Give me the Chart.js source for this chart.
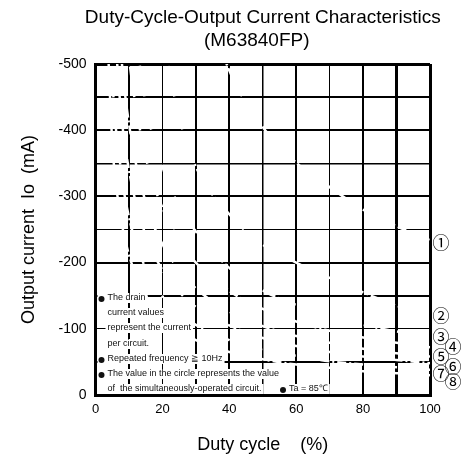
<!DOCTYPE html>
<html>
<head>
<meta charset="utf-8">
<script src="https://cdn.jsdelivr.net/npm/chart.js@4"></script>
<style>
  html, body { margin: 0; padding: 0; background: #fff; }
</style>
</head>
<body>
<canvas id="chart" width="467" height="466"></canvas>
<script>
// ── Data ────────────────────────────────────────────────
// duty cycle (%) sample points shared by every curve
const dutyPct = [2.5, 5, 7.5, 10, 15, 20, 25, 30, 40, 50, 60, 70, 80, 90, 100];

// output current (mA) for 1..8 simultaneously-operated circuits (null = off the chart)
const circuits1 = [null, null, null, null, null, null, null, -640, -490, -405, -351, -314, -280, -255, -235];
const circuits2 = [null, null, null, null, null, -540, -420, -345, -273, -227, -200, -177, -155, -135, -118];
const circuits3 = [null, null, null, -625, -440, -345, -285, -247, -192, -158, -136, -119, -106, -96, -88];
const circuits4 = [null, null, -650, -510, -360, -283, -234, -200, -157, -130, -111, -97, -87, -79, -72];
const circuits5 = [null, -740, -525, -410, -291, -228, -189, -161, -126, -104, -89, -79, -70, -63, -58];
const circuits6 = [null, -612, -434, -340, -241, -189, -156, -133, -105, -86, -74, -65, -58, -53, -48];
const circuits7 = [-874, -485, -344, -269, -191, -149, -124, -106, -83, -68, -59, -51, -46, -42, -38];
const circuits8 = [-690, -383, -271, -212, -151, -118, -98, -83, -65, -54, -46, -41, -36, -33, -30];

const curves = [circuits1, circuits2, circuits3, circuits4, circuits5, circuits6, circuits7, circuits8];
const curveLabels = ['①', '②', '③', '④', '⑤', '⑥', '⑦', '⑧'];
// current (mA) where each circled number sits beside the right edge
const labelCurrent = [-230, -120, -89, -73, -58, -43, -33, -20];

const xTickLabels = [0, 20, 40, 60, 80, 100];
const yTickLabels = [-500, -400, -300, -200, -100, 0];

// ── Grid weights (the sheet uses heavy and light rules) ──
const xRule = { 0: 3, 10: 2, 20: 1, 30: 2, 40: 2, 50: 1.5, 60: 2, 70: 1, 80: 2, 90: 3, 100: 3 };
const yRule = { 0: 3, '-50': 2, '-100': 1, '-150': 2, '-200': 2, '-250': 1, '-300': 2, '-350': 1.5, '-400': 2, '-450': 2, '-500': 3 };

const SANS = '"Liberation Sans", Arial, sans-serif';

// notes printed in the lower-left corner of the grid
const notes = [
  { dot: true, text: 'The drain', y: 298 },
  { dot: false, text: 'current values', y: 313 },
  { dot: false, text: 'represent the current', y: 328 },
  { dot: false, text: 'per circuit.', y: 344 },
  { dot: true, text: 'Repeated frequency \u2267 10Hz', y: 359 },
  { dot: true, text: 'The value in the circle represents the value', y: 374 },
  { dot: false, text: 'of  the simultaneously-operated circuit.', y: 389 }
];

const sheetText = {
  id: 'sheetText',
  afterDraw(chart) {
    const { ctx, chartArea, scales } = chart;
    const cx = (chartArea.left + chartArea.right) / 2;
    ctx.save();
    ctx.fillStyle = '#000';
    ctx.textBaseline = 'middle';

    // title
    ctx.font = '19px ' + SANS;
    ctx.textAlign = 'center';
    ctx.fillText('Duty-Cycle-Output Current Characteristics', cx, 18);
    ctx.fillText('(M63840FP)', cx - 6, 41);

    // notes, each line on its own white strip
    ctx.font = '9px ' + SANS;
    ctx.textAlign = 'left';
    const tx = chartArea.left + 12;
    const drawLine = (text, x, y, dot) => {
      const w = ctx.measureText(text).width;
      ctx.fillStyle = '#fff';
      ctx.fillRect(dot ? x - 10 : x - 2, y - 5, w + (dot ? 12 : 4), 10);
      ctx.fillStyle = '#111';
      ctx.fillText(text, x, y);
      if (dot) {
        ctx.beginPath();
        ctx.arc(x - 6, y + 1, 3, 0, Math.PI * 2);
        ctx.fill();
      }
    };
    notes.forEach(n => drawLine(n.text, tx, n.y, n.dot));
    drawLine('Ta = 85\u2103', 289, 389, true);

    // circled curve numbers beside the right edge
    ctx.font = '17px "Noto Sans CJK JP", "DejaVu Sans", sans-serif';
    ctx.fillStyle = '#000';
    ctx.textAlign = 'center';
    curveLabels.forEach((lab, i) => {
      const x = chartArea.right + (i >= 3 && i % 2 === 1 ? 23 : 11);
      ctx.fillText(lab, x, scales.y.getPixelForValue(labelCurrent[i]));
    });
    ctx.restore();
  }
};

new Chart(document.getElementById('chart'), {
  type: 'line',
  data: {
    datasets: curves.map((vals, k) => ({
      label: curveLabels[k],
      data: dutyPct.map((d, i) => ({ x: d, y: vals[i] })),
      borderColor: '#fff',
      borderWidth: 2.5,
      borderDash: [9, 3, 2, 3],
      pointRadius: 0,
      tension: 0.3,
      cubicInterpolationMode: 'monotone',
      fill: false
    }))
  },
  options: {
    responsive: false,
    animation: false,
    devicePixelRatio: 1,
    layout: { padding: { left: 18, right: 37, top: 64, bottom: 10 } },
    plugins: { legend: { display: false }, tooltip: { enabled: false } },
    scales: {
      x: {
        type: 'linear',
        min: 0, max: 100,
        afterFit: s => { s.height = 61; },
        ticks: {
          stepSize: 10, autoSkip: false, maxRotation: 0, padding: 7,
          color: '#000', font: { family: SANS, size: 13 },
          callback: v => xTickLabels.includes(v) ? String(v) : ''
        },
        grid: {
          color: '#000', drawTicks: false,
          lineWidth: c => (c.tick ? xRule[c.tick.value] : 1) || 1
        },
        border: { display: true, color: '#000', width: 3 },
        title: {
          display: true, text: 'Duty cycle    (%)', color: '#000',
          font: { family: SANS, size: 18 }, padding: 0
        }
      },
      y: {
        min: -500, max: 0, reverse: true,
        afterFit: s => { s.width = 77.5; },
        ticks: {
          stepSize: 50, autoSkip: false, padding: 9,
          color: '#000', font: { family: SANS, size: 14 },
          callback: v => yTickLabels.includes(v) ? String(v) : ''
        },
        grid: {
          color: '#000', drawTicks: false,
          lineWidth: c => (c.tick ? yRule[c.tick.value] : 1) || 1
        },
        border: { display: true, color: '#000', width: 3 },
        title: {
          display: true, text: 'Output current  Io  (mA)', color: '#000',
          font: { family: SANS, size: 18 }, padding: 0
        }
      }
    }
  },
  plugins: [sheetText]
});
</script>
</body>
</html>
